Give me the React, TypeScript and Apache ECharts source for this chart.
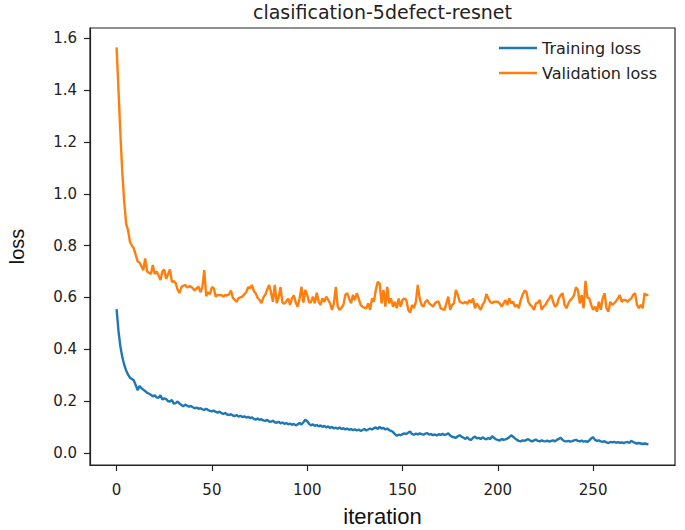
import React, { useEffect, useRef } from "react";
import * as echarts from "echarts";

const TITLE = "clasification-5defect-resnet";
const X_LABEL = "iteration";
const Y_LABEL = "loss";
const SERIES_NAMES = ["Training loss", "Validation loss"];
const X_TICKS = [0, 50, 100, 150, 200, 250];
const Y_TICKS = [0, 0.2, 0.4, 0.6, 0.8, 1.0, 1.2, 1.4, 1.6];

const trainingLoss = [
  0.555, 0.47, 0.41, 0.37, 0.34, 0.318, 0.302, 0.29, 0.285, 0.28,
  0.262, 0.242, 0.258, 0.25, 0.244, 0.238, 0.232, 0.228, 0.224, 0.218,
  0.222, 0.214, 0.212, 0.222, 0.206, 0.21, 0.207, 0.2, 0.198, 0.204,
  0.19, 0.192, 0.198, 0.19, 0.185, 0.18, 0.186, 0.182, 0.178, 0.181,
  0.176, 0.172, 0.175, 0.17, 0.172, 0.168, 0.166, 0.17, 0.165, 0.162,
  0.16, 0.163, 0.158, 0.155, 0.159, 0.153, 0.15, 0.154, 0.148, 0.146,
  0.149, 0.144, 0.142, 0.146, 0.14, 0.143, 0.138, 0.141, 0.136, 0.139,
  0.134, 0.137, 0.131, 0.128, 0.133, 0.127, 0.13, 0.125, 0.123, 0.127,
  0.121, 0.12, 0.124, 0.118, 0.116, 0.12, 0.114, 0.117, 0.112, 0.115,
  0.11, 0.113, 0.108, 0.112, 0.106, 0.11, 0.115, 0.109, 0.118, 0.128,
  0.122, 0.112, 0.106, 0.11, 0.104, 0.108, 0.102, 0.106, 0.1, 0.104,
  0.098, 0.102, 0.096, 0.1, 0.094, 0.097, 0.093, 0.098, 0.092, 0.095,
  0.09, 0.094, 0.089, 0.092, 0.087, 0.091, 0.086, 0.09, 0.085, 0.088,
  0.092, 0.086, 0.09, 0.094, 0.09, 0.095, 0.098, 0.092, 0.1, 0.094,
  0.096, 0.09, 0.094, 0.088, 0.085, 0.08, 0.072, 0.066, 0.07, 0.068,
  0.072, 0.075, 0.072, 0.078, 0.082, 0.072, 0.07, 0.074, 0.071, 0.075,
  0.072, 0.07, 0.074, 0.076, 0.07, 0.072, 0.068, 0.071, 0.067, 0.072,
  0.069, 0.073, 0.069, 0.071, 0.075, 0.067, 0.062, 0.06, 0.058, 0.064,
  0.068, 0.062, 0.058, 0.054, 0.06, 0.052, 0.05, 0.058, 0.063, 0.056,
  0.058, 0.053, 0.06, 0.055, 0.052, 0.057, 0.053, 0.064, 0.058, 0.052,
  0.05, 0.047, 0.054, 0.05, 0.052, 0.055, 0.06, 0.068, 0.062, 0.056,
  0.05, 0.046, 0.044, 0.048, 0.046, 0.05, 0.053, 0.047, 0.044, 0.048,
  0.051, 0.046, 0.044, 0.048, 0.045, 0.044, 0.047, 0.043, 0.046, 0.048,
  0.044, 0.05, 0.054, 0.058, 0.05, 0.045, 0.044, 0.046, 0.043, 0.045,
  0.048, 0.05, 0.046, 0.044, 0.047, 0.043, 0.045, 0.042, 0.048, 0.056,
  0.06, 0.05, 0.046, 0.048, 0.044, 0.042, 0.045, 0.04, 0.038, 0.042,
  0.04, 0.042, 0.039, 0.041, 0.039, 0.04, 0.038, 0.04, 0.042, 0.038,
  0.046, 0.042, 0.038, 0.036, 0.038, 0.036, 0.034, 0.036, 0.034, 0.033,
];

const validationLoss = [
  1.565, 1.4, 1.23, 1.08, 0.97, 0.885, 0.86, 0.815, 0.8, 0.79,
  0.765, 0.74, 0.735, 0.72, 0.705, 0.75, 0.7, 0.695, 0.69, 0.725,
  0.69, 0.7, 0.685, 0.667, 0.7, 0.708, 0.672, 0.69, 0.708, 0.66,
  0.663, 0.655, 0.63, 0.617, 0.64, 0.645, 0.648, 0.638, 0.643, 0.642,
  0.635, 0.627, 0.635, 0.642, 0.62, 0.64, 0.705, 0.605, 0.62, 0.612,
  0.64, 0.635, 0.603, 0.61, 0.608, 0.61, 0.603, 0.61, 0.607, 0.612,
  0.626, 0.598, 0.59, 0.583, 0.597, 0.6, 0.603, 0.612, 0.62, 0.64,
  0.635, 0.648, 0.625, 0.615, 0.598, 0.59, 0.578, 0.6, 0.61, 0.63,
  0.648, 0.62, 0.583, 0.648, 0.578, 0.6, 0.64, 0.58, 0.575, 0.585,
  0.595, 0.571, 0.596, 0.608, 0.58, 0.564, 0.596, 0.641, 0.58, 0.629,
  0.61, 0.58, 0.583, 0.603, 0.577, 0.618, 0.583, 0.571, 0.596, 0.583,
  0.603, 0.59, 0.577, 0.552, 0.577, 0.641, 0.564, 0.552, 0.56, 0.571,
  0.61, 0.616, 0.596, 0.577, 0.61, 0.59, 0.616, 0.596, 0.571, 0.564,
  0.56, 0.558, 0.577, 0.552, 0.596, 0.583, 0.629, 0.66, 0.654, 0.577,
  0.629, 0.564, 0.641, 0.577, 0.596, 0.564, 0.583, 0.558, 0.596, 0.564,
  0.59, 0.596, 0.59, 0.552, 0.541, 0.571, 0.558, 0.583, 0.648, 0.596,
  0.571, 0.564, 0.583, 0.59, 0.577, 0.571, 0.564, 0.577, 0.583, 0.583,
  0.558, 0.555, 0.552, 0.577, 0.603, 0.552, 0.571, 0.577, 0.629, 0.61,
  0.583, 0.58, 0.577, 0.583, 0.575, 0.59, 0.58, 0.596, 0.558, 0.577,
  0.564, 0.552, 0.571, 0.583, 0.613, 0.596, 0.583, 0.577, 0.583, 0.583,
  0.583, 0.577, 0.564, 0.577, 0.59, 0.571, 0.596, 0.577, 0.583, 0.564,
  0.571, 0.558, 0.59, 0.61, 0.626, 0.622, 0.583, 0.571, 0.564, 0.552,
  0.577, 0.58, 0.59, 0.552, 0.565, 0.571, 0.585, 0.596, 0.609, 0.583,
  0.564, 0.571, 0.596, 0.609, 0.616, 0.571, 0.558, 0.577, 0.59, 0.596,
  0.609, 0.639, 0.629, 0.577, 0.609, 0.558, 0.664, 0.6, 0.596, 0.571,
  0.552, 0.564, 0.545, 0.583, 0.552, 0.596, 0.616, 0.558, 0.545, 0.583,
  0.571, 0.577, 0.585, 0.596, 0.609, 0.583, 0.59, 0.59, 0.583, 0.59,
  0.596, 0.61, 0.616, 0.571, 0.558, 0.571, 0.558, 0.616, 0.609, 0.609,
];

const COLORS = ["#1f77b4", "#ff7f0e"];

export default function App() {
  const ref = useRef<HTMLDivElement>(null);

  useEffect(() => {
    document.body.style.margin = "0";
    if (!ref.current) return;
    const chart = echarts.init(ref.current, null, { renderer: "svg" });
    const grid = { left: 90, right: 10, top: 28, bottom: 65 };
    const plotCx = grid.left + (685 - grid.left - grid.right) / 2;
    const plotCy = grid.top + (530 - grid.top - grid.bottom) / 2;
    const tickFont = { fontFamily: "DejaVu Sans", fontSize: 15, color: "#222" };
    chart.setOption({
      animation: false,
      backgroundColor: "#fff",
      grid: { ...grid, show: true, borderColor: "#222", borderWidth: 1.2, backgroundColor: "transparent" },
      legend: {
        orient: "vertical",
        left: 494,
        top: 33,
        icon: "rect",
        itemWidth: 38,
        itemHeight: 2.5,
        itemGap: 5,
        textStyle: { fontFamily: "DejaVu Sans", fontSize: 16, color: "#222", lineHeight: 20 },
        data: SERIES_NAMES,
      },
      graphic: [
        {
          type: "text",
          x: plotCx,
          y: 12,
          style: { text: TITLE, fontFamily: "DejaVu Sans", fontSize: 19, fill: "#222", textAlign: "center", textVerticalAlign: "middle" },
        },
        {
          type: "text",
          x: plotCx,
          y: 516,
          style: { text: X_LABEL, fontFamily: "Liberation Sans", fontSize: 22, fill: "#111", textAlign: "center", textVerticalAlign: "middle" },
        },
        {
          type: "text",
          x: 17,
          y: plotCy,
          rotation: Math.PI / 2,
          style: { text: Y_LABEL, fontFamily: "Liberation Sans", fontSize: 20, fill: "#111", textAlign: "center", textVerticalAlign: "middle" },
        },
      ],
      xAxis: {
        type: "value",
        min: -13.95,
        max: 292.95,
        splitLine: { show: false },
        axisLine: { show: true, onZero: false, lineStyle: { color: "#222", width: 1.2 } },
        axisTick: { show: true, length: 6, lineStyle: { color: "#222", width: 1.2 }, customValues: X_TICKS },
        axisLabel: { ...tickFont, margin: 17, customValues: X_TICKS, formatter: (v: number) => String(v) },
      },
      yAxis: {
        type: "value",
        min: -0.047,
        max: 1.64,
        splitLine: { show: false },
        axisLine: { show: true, onZero: false, lineStyle: { color: "#222", width: 1.2 } },
        axisTick: { show: true, length: 6, lineStyle: { color: "#222", width: 1.2 }, customValues: Y_TICKS },
        axisLabel: { ...tickFont, margin: 13, customValues: Y_TICKS, formatter: (v: number) => v.toFixed(1) },
      },
      series: [
        {
          name: SERIES_NAMES[0],
          type: "line",
          data: trainingLoss.map((v, i) => [i, v]),
          showSymbol: false,
          symbol: "none",
          color: COLORS[0],
          lineStyle: { color: COLORS[0], width: 2.4 },
        },
        {
          name: SERIES_NAMES[1],
          type: "line",
          data: validationLoss.map((v, i) => [i, v]),
          showSymbol: false,
          symbol: "none",
          color: COLORS[1],
          lineStyle: { color: COLORS[1], width: 2.4 },
        },
      ],
    });
    return () => chart.dispose();
  }, []);

  return <div ref={ref} style={{ width: 685, height: 530 }} />;
}
